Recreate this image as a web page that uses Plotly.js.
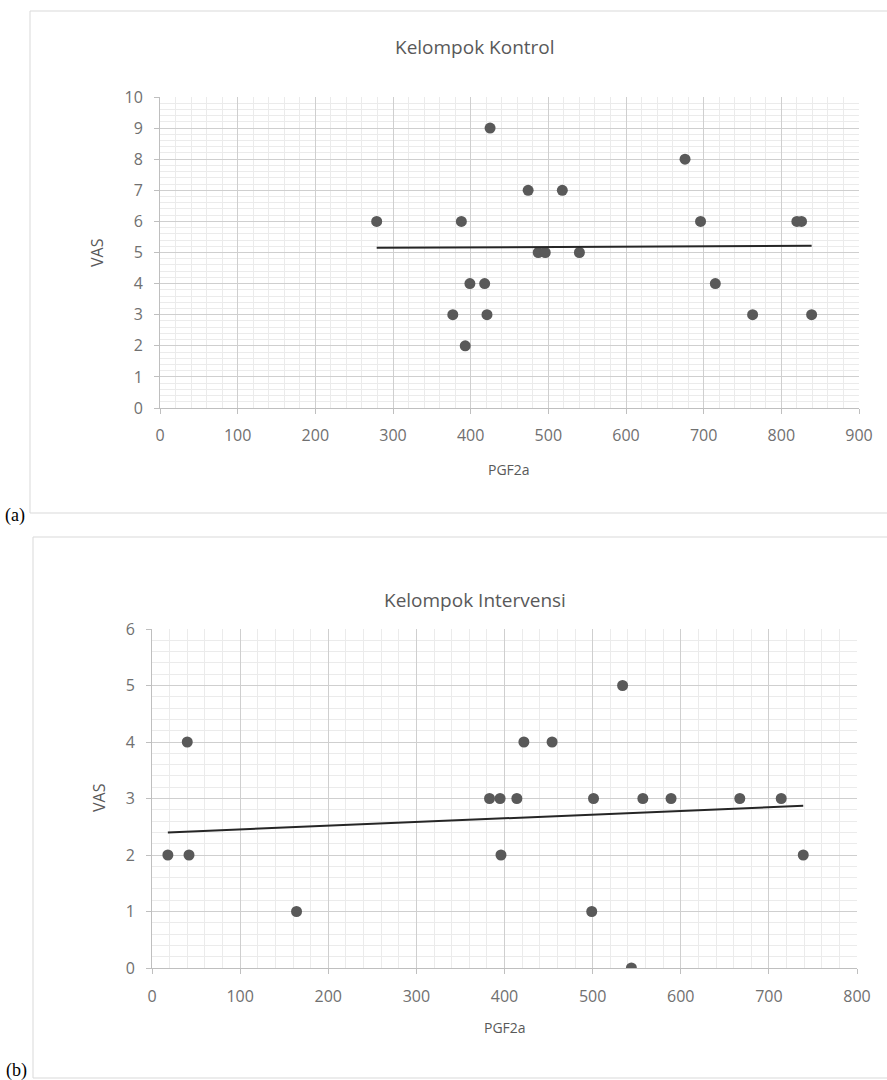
<!DOCTYPE html>
<html>
<head>
<meta charset="utf-8">
<script src="https://cdn.plot.ly/plotly-3.0.1.min.js"></script>
<style>html,body{margin:0;padding:0;background:#fff;}#chart{width:887px;height:1080px;}</style>
</head>
<body>
<div id="chart"></div>
<script>
// Kelompok Kontrol
const kontrolPGF2a = [279, 388, 425, 474, 518, 676, 696, 820, 826, 487, 496, 540, 399, 418, 715, 377, 421, 763, 839, 393];
const kontrolVAS   = [6,   6,   9,   7,   7,   8,   6,   6,   6,   5,   5,   5,   4,   4,   4,   3,   3,   3,   3,   2];
// Linear trendline (as drawn in the reference), VAS at the smallest and largest PGF2a
const kontrolTrendVAS = [5.15, 5.22];
// Kelompok Intervensi
const intervensiPGF2a = [534, 422, 454, 40, 383, 395, 414, 501, 557, 589, 667, 714, 18, 42, 396, 739, 164, 499, 544];
const intervensiVAS   = [5,   4,   4,   4,  3,   3,   3,   3,   3,   3,   3,   3,   2,  2,  2,   2,   1,   1,   0];
const intervensiTrendVAS = [2.40, 2.87];
const xTicksKontrol = [0, 100, 200, 300, 400, 500, 600, 700, 800, 900];
const yTicksKontrol = [0, 1, 2, 3, 4, 5, 6, 7, 8, 9, 10];
const xTicksIntervensi = [0, 100, 200, 300, 400, 500, 600, 700, 800];
const yTicksIntervensi = [0, 1, 2, 3, 4, 5, 6];

const span = xs => [Math.min(...xs), Math.max(...xs)];

const W = 887, H = 1080;
const px = v => v / W, py = v => 1 - v / H;
const txtColor = '#595959';
const tickColor = '#707070';
const fontFam = '"Open Sans", "Liberation Sans", sans-serif';
const mk = { size: 11, color: '#595959' };

const data = [
  { x: kontrolPGF2a, y: kontrolVAS, type: 'scatter', mode: 'markers', marker: mk, xaxis: 'x', yaxis: 'y' },
  { x: span(kontrolPGF2a), y: kontrolTrendVAS, type: 'scatter', mode: 'lines', line: { color: '#262626', width: 2 }, xaxis: 'x', yaxis: 'y' },
  { x: intervensiPGF2a, y: intervensiVAS, type: 'scatter', mode: 'markers', marker: mk, xaxis: 'x2', yaxis: 'y2' },
  { x: span(intervensiPGF2a), y: intervensiTrendVAS, type: 'scatter', mode: 'lines', line: { color: '#262626', width: 2 }, xaxis: 'x2', yaxis: 'y2' }
];

function axis(domain, range, tickvals, minorD, anchor, standoff) {
  return {
    domain: domain, range: range, tickvals: tickvals, anchor: anchor,
    showgrid: true, gridcolor: '#cfcfcf', gridwidth: 1,
    minor: { dtick: minorD, showgrid: true, gridcolor: '#ebebeb', gridwidth: 1, ticks: '' },
    showline: true, linecolor: '#bfbfbf', linewidth: 1,
    ticks: 'outside', ticklen: 5, tickcolor: '#bfbfbf',
    ticklabelstandoff: standoff,
    zeroline: false, mirror: false,
    tickfont: { family: fontFam, size: 16, color: tickColor },
    fixedrange: true
  };
}

function label(text, x, y, size, extra) {
  return Object.assign({ text: text, xref: 'paper', yref: 'paper', x: px(x), y: py(y), xanchor: 'center', yanchor: 'middle', showarrow: false, font: { family: fontFam, size: size, color: txtColor } }, extra || {});
}

const layout = {
  width: W, height: H,
  margin: { l: 0, r: 0, t: 0, b: 0 },
  paper_bgcolor: '#fff', plot_bgcolor: '#fff',
  showlegend: false,
  xaxis: axis([px(160), px(859)], [0, 900], xTicksKontrol, 20, 'y', 8),
  yaxis: axis([py(408), py(97)], [0, 10], yTicksKontrol, 0.2, 'x', 8),
  xaxis2: axis([px(152), px(857)], [0, 800], xTicksIntervensi, 20, 'y2', 9),
  yaxis2: axis([py(968), py(629)], [0, 6], yTicksIntervensi, 0.2, 'x2', 8),
  shapes: [
    { type: 'rect', xref: 'paper', yref: 'paper', x0: px(30), x1: 1.01, y0: py(513), y1: py(11), line: { color: '#d9d9d9', width: 1 } },
    { type: 'rect', xref: 'paper', yref: 'paper', x0: px(33), x1: 1.01, y0: py(1078), y1: py(537), line: { color: '#d9d9d9', width: 1 } }
  ],
  annotations: [
    label('Kelompok Kontrol', 475, 47, 19),
    label('VAS', 97, 253, 16, { textangle: -90 }),
    label('PGF2a', 509, 470, 14),
    label('Kelompok Intervensi', 475, 600, 19),
    label('VAS', 99, 798, 16, { textangle: -90 }),
    label('PGF2a', 505, 1027, 14),
    label('(a)', 15, 515, 18, { font: { family: '"Liberation Serif", serif', size: 18, color: '#000' } }),
    label('(b)', 16, 1070, 18, { font: { family: '"Liberation Serif", serif', size: 18, color: '#000' } })
  ]
};

Plotly.newPlot('chart', data, layout, { staticPlot: true, displayModeBar: false });
</script>
</body>
</html>
